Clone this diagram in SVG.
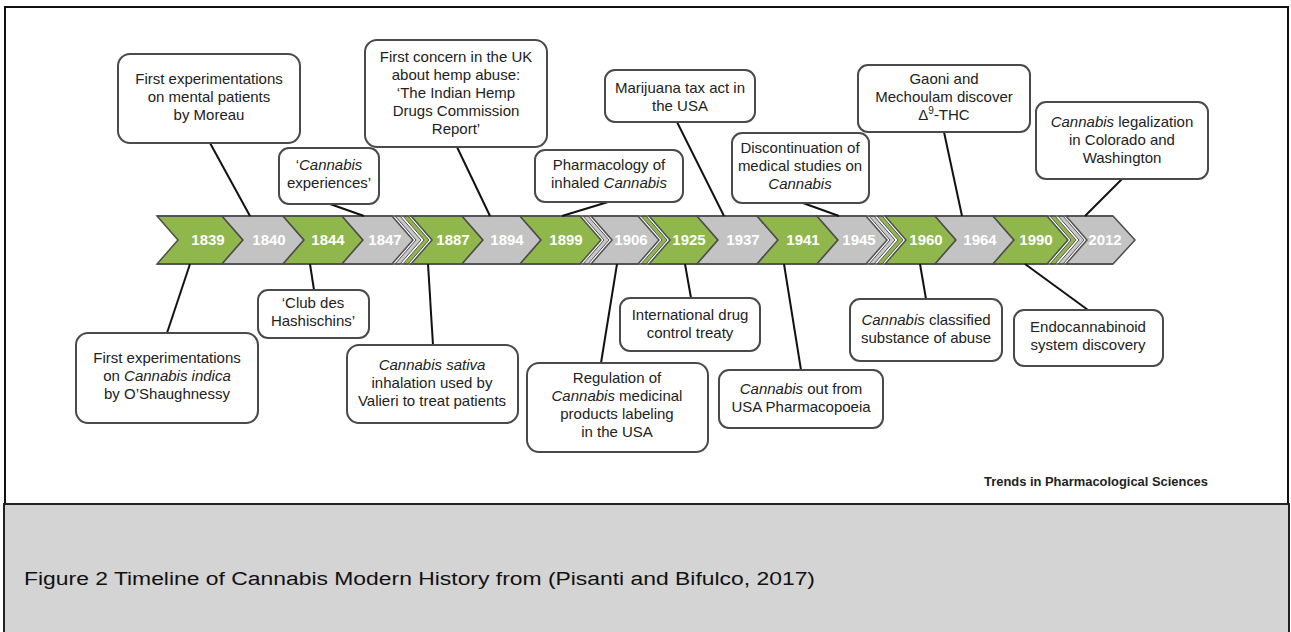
<svg xmlns="http://www.w3.org/2000/svg" width="1291" height="632" viewBox="0 0 1291 632">
<style>
.box{fill:#fff;stroke:#4a4a4a;stroke-width:2}
.t{font-family:"Liberation Sans",Arial,sans-serif;font-size:15px;fill:#222;text-anchor:middle}
.i{font-style:italic}
.g{fill:#8fb74c;stroke:#4d4d4d;stroke-width:1.5;stroke-linejoin:miter}
.s{fill:#c3c3c3;stroke:#4d4d4d;stroke-width:1.5;stroke-linejoin:miter}
.gs{fill:#8fb74c;stroke:#555;stroke-width:1;stroke-linejoin:miter}
.ss{fill:#c8c8c8;stroke:#555;stroke-width:1;stroke-linejoin:miter}
.y{font-family:"Liberation Sans",Arial,sans-serif;font-size:15px;font-weight:bold;fill:#fff;text-anchor:middle}
.c{stroke:#111;stroke-width:2;fill:none}
</style>
<rect x="0" y="0" width="1291" height="632" fill="#fff"/>
<rect x="5" y="7" width="1283" height="497" fill="#fff" stroke="#111" stroke-width="2"/>
<rect x="4" y="504" width="1285" height="132" fill="#d4d4d4" stroke="#222" stroke-width="2"/>
<text x="24" y="585" font-family="'Liberation Sans',Arial,sans-serif" font-size="18" fill="#111" textLength="791" lengthAdjust="spacingAndGlyphs">Figure 2 Timeline of Cannabis Modern History from (Pisanti and Bifulco, 2017)</text>

<g id="timeline">
<polygon class="g" points="157,216 222,216 243,240 222,264 157,264 178,240"/>
<polygon class="s" points="222,216 283,216 304,240 283,264 222,264 243,240"/>
<polygon class="g" points="283,216 342,216 363,240 342,264 283,264 304,240"/>
<polygon class="s" points="342,216 392,216 413,240 392,264 342,264 363,240"/>
<polygon class="ss" points="395,216 400,216 421,240 400,264 395,264 416,240"/>
<polygon class="gs" points="403,216 408,216 429,240 408,264 403,264 424,240"/>
<polygon class="g" points="411,216 462,216 483,240 462,264 411,264 432,240"/>
<polygon class="s" points="462,216 520,216 541,240 520,264 462,264 483,240"/>
<polygon class="g" points="520,216 580,216 601,240 580,264 520,264 541,240"/>
<polygon class="ss" points="583,216 588,216 609,240 588,264 583,264 604,240"/>
<polygon class="s" points="591,216 638,216 659,240 638,264 591,264 612,240"/>
<polygon class="gs" points="641,216 646,216 667,240 646,264 641,264 662,240"/>
<polygon class="g" points="649,216 697,216 718,240 697,264 649,264 670,240"/>
<polygon class="s" points="697,216 757,216 778,240 757,264 697,264 718,240"/>
<polygon class="g" points="757,216 817,216 838,240 817,264 757,264 778,240"/>
<polygon class="s" points="817,216 866,216 887,240 866,264 817,264 838,240"/>
<polygon class="ss" points="869,216 874,216 895,240 874,264 869,264 890,240"/>
<polygon class="gs" points="877,216 882,216 903,240 882,264 877,264 898,240"/>
<polygon class="g" points="885,216 935,216 956,240 935,264 885,264 906,240"/>
<polygon class="s" points="935,216 993,216 1014,240 993,264 935,264 956,240"/>
<polygon class="g" points="993,216 1047,216 1068,240 1047,264 993,264 1014,240"/>
<polygon class="gs" points="1050,216 1055,216 1076,240 1055,264 1050,264 1071,240"/>
<polygon class="ss" points="1058,216 1063,216 1084,240 1063,264 1058,264 1079,240"/>
<polygon class="s" points="1066,216 1113,216 1135,240 1113,264 1066,264 1087,240"/>
<line x1="157" y1="216" x2="1113" y2="216" stroke="#4d4d4d" stroke-width="1.5"/>
<line x1="157" y1="264" x2="1113" y2="264" stroke="#4d4d4d" stroke-width="1.5"/>
<text class="y" x="208" y="245">1839</text>
<text class="y" x="269" y="245">1840</text>
<text class="y" x="328" y="245">1844</text>
<text class="y" x="385" y="245">1847</text>
<text class="y" x="453" y="245">1887</text>
<text class="y" x="507" y="245">1894</text>
<text class="y" x="566" y="245">1899</text>
<text class="y" x="631" y="245">1906</text>
<text class="y" x="689" y="245">1925</text>
<text class="y" x="743" y="245">1937</text>
<text class="y" x="803" y="245">1941</text>
<text class="y" x="859" y="245">1945</text>
<text class="y" x="926" y="245">1960</text>
<text class="y" x="980" y="245">1964</text>
<text class="y" x="1036" y="245">1990</text>
<text class="y" x="1105" y="245">2012</text>
</g>

<g id="connectors">
<line class="c" x1="210" y1="143" x2="250" y2="216"/>
<line class="c" x1="330" y1="204" x2="364" y2="216"/>
<line class="c" x1="457" y1="147" x2="490" y2="216"/>
<line class="c" x1="608" y1="202" x2="562" y2="216"/>
<line class="c" x1="677" y1="122" x2="724" y2="216"/>
<line class="c" x1="803" y1="203" x2="839" y2="216"/>
<line class="c" x1="944" y1="132" x2="962" y2="216"/>
<line class="c" x1="1122" y1="179" x2="1085" y2="216"/>
<line class="c" x1="167" y1="333" x2="190" y2="264"/>
<line class="c" x1="314" y1="290" x2="310" y2="264"/>
<line class="c" x1="433" y1="345" x2="428" y2="264"/>
<line class="c" x1="601" y1="363" x2="617" y2="264"/>
<line class="c" x1="691" y1="298" x2="685" y2="264"/>
<line class="c" x1="801" y1="370" x2="784" y2="264"/>
<line class="c" x1="926" y1="299" x2="920" y2="264"/>
<line class="c" x1="1088" y1="310" x2="1025" y2="264"/>
</g>

<g id="n1"><rect class="box" x="118" y="54" width="182" height="89" rx="12"/>
<text class="t" x="209" y="84">First experimentations</text>
<text class="t" x="209" y="102">on mental patients</text>
<text class="t" x="209" y="120">by Moreau</text></g>

<g id="n2"><rect class="box" x="279" y="148" width="100" height="56" rx="10"/>
<text class="t" x="329" y="170">‘<tspan class="i">Cannabis</tspan></text>
<text class="t" x="329" y="188">experiences’</text></g>

<g id="n3"><rect class="box" x="365" y="40" width="182" height="107" rx="12"/>
<text class="t" x="456" y="62">First concern in the UK</text>
<text class="t" x="456" y="80">about hemp abuse:</text>
<text class="t" x="456" y="98">‘The Indian Hemp</text>
<text class="t" x="456" y="116">Drugs Commission</text>
<text class="t" x="456" y="134">Report’</text></g>

<g id="n4"><rect class="box" x="535" y="150" width="148" height="52" rx="10"/>
<text class="t" x="609" y="170">Pharmacology of</text>
<text class="t" x="609" y="188">inhaled <tspan class="i">Cannabis</tspan></text></g>

<g id="n5"><rect class="box" x="605" y="70" width="150" height="52" rx="10"/>
<text class="t" x="680" y="93">Marijuana tax act in</text>
<text class="t" x="680" y="111">the USA</text></g>

<g id="n6"><rect class="box" x="732" y="133" width="137" height="70" rx="10"/>
<text class="t" x="800" y="153">Discontinuation of</text>
<text class="t" x="800" y="171">medical studies on</text>
<text class="t" x="800" y="189" font-style="italic">Cannabis</text></g>

<g id="n7"><rect class="box" x="858" y="65" width="172" height="67" rx="10"/>
<text class="t" x="944" y="84">Gaoni and</text>
<text class="t" x="944" y="102">Mechoulam discover</text>
<text class="t" x="944" y="120">Δ<tspan font-size="10" dy="-6">9</tspan><tspan dy="6">-THC</tspan></text></g>

<g id="n8"><rect class="box" x="1036" y="102" width="172" height="77" rx="10"/>
<text class="t" x="1122" y="127"><tspan class="i">Cannabis</tspan> legalization</text>
<text class="t" x="1122" y="145">in Colorado and</text>
<text class="t" x="1122" y="163">Washington</text></g>

<g id="n9"><rect class="box" x="76" y="333" width="182" height="90" rx="12"/>
<text class="t" x="167" y="363">First experimentations</text>
<text class="t" x="167" y="381">on <tspan class="i">Cannabis indica</tspan></text>
<text class="t" x="167" y="399">by O’Shaughnessy</text></g>

<g id="n10"><rect class="box" x="258" y="290" width="111" height="48" rx="10"/>
<text class="t" x="313" y="308">‘Club des</text>
<text class="t" x="313" y="326">Hashischins’</text></g>

<g id="n11"><rect class="box" x="347" y="345" width="171" height="78" rx="12"/>
<text class="t" x="432" y="370" font-style="italic">Cannabis sativa</text>
<text class="t" x="432" y="388">inhalation used by</text>
<text class="t" x="432" y="406">Valieri to treat patients</text></g>

<g id="n12"><rect class="box" x="527" y="363" width="181" height="89" rx="12"/>
<text class="t" x="617" y="383">Regulation of</text>
<text class="t" x="617" y="401"><tspan class="i">Cannabis</tspan> medicinal</text>
<text class="t" x="617" y="419">products labeling</text>
<text class="t" x="617" y="437">in the USA</text></g>

<g id="n13"><rect class="box" x="620" y="298" width="140" height="53" rx="10"/>
<text class="t" x="690" y="320">International drug</text>
<text class="t" x="690" y="338">control treaty</text></g>

<g id="n14"><rect class="box" x="719" y="370" width="164" height="58" rx="10"/>
<text class="t" x="801" y="394"><tspan class="i">Cannabis</tspan>  out from</text>
<text class="t" x="801" y="412">USA Pharmacopoeia</text></g>

<g id="n15"><rect class="box" x="850" y="299" width="152" height="62" rx="10"/>
<text class="t" x="926" y="325"><tspan class="i">Cannabis</tspan> classified</text>
<text class="t" x="926" y="343">substance of abuse</text></g>

<g id="n16"><rect class="box" x="1014" y="310" width="149" height="56" rx="10"/>
<text class="t" x="1088" y="332">Endocannabinoid</text>
<text class="t" x="1088" y="350">system discovery</text></g>

<text x="984" y="486" font-family="'Liberation Sans',Arial,sans-serif" font-size="13" font-weight="bold" fill="#222" textLength="224" lengthAdjust="spacingAndGlyphs">Trends in Pharmacological Sciences</text>
</svg>
